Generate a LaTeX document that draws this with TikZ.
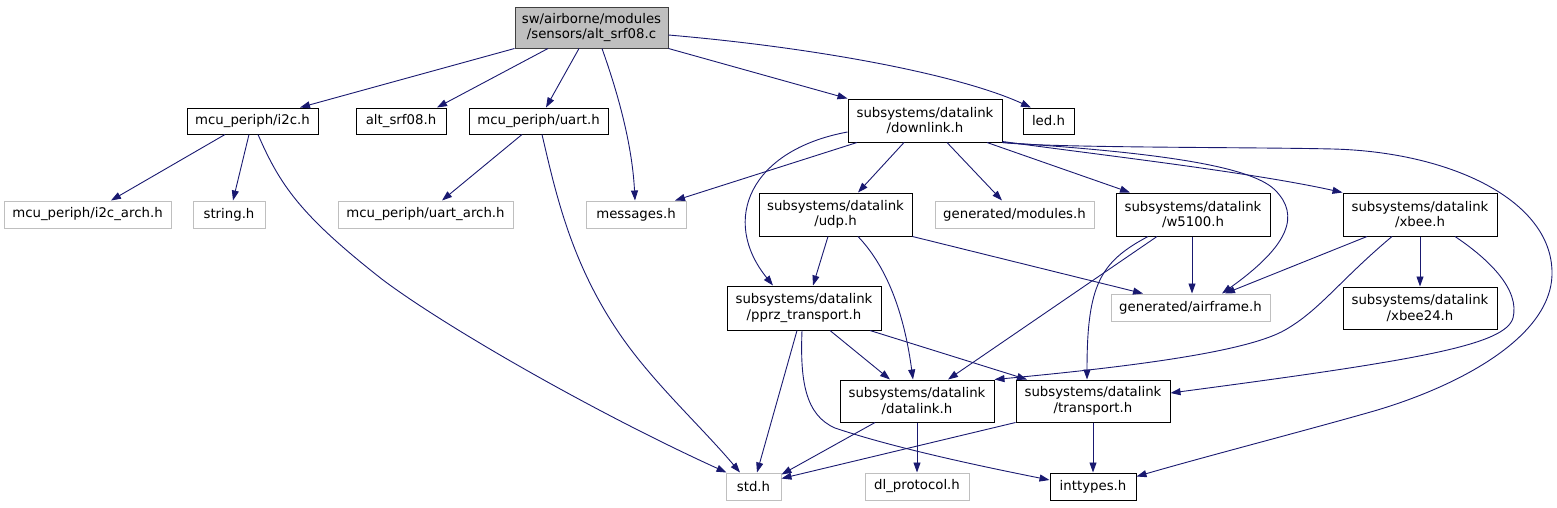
\documentclass[tikz,border=0pt]{standalone}
\usepackage{fontspec}
\setmainfont{DejaVu Sans}
\usetikzlibrary{arrows.meta}
\definecolor{edgec}{HTML}{191970}
\definecolor{extc}{HTML}{BFBFBF}
\definecolor{bordc}{HTML}{404040}
\tikzset{
  nbase/.style={inner sep=0pt, align=center, font=\fontsize{13.3}{15.6}\selectfont, line width=1pt},
  box/.style={nbase, draw=black},
  ext/.style={nbase, draw=extc},
  rootbox/.style={nbase, draw=bordc, fill=extc},
  edge/.style={draw=edgec, line width=0.9pt, -{Triangle[length=10pt,width=7pt]}},
}
\begin{document}
\begin{tikzpicture}[x=1pt,y=-1pt]
\useasboundingbox (0,0) rectangle (1557,507);
% nodes
\node[rootbox, minimum width=153pt, minimum height=41pt] (root) at (591.5,27.5) {sw/airborne/modules\\/sensors/alt\_srf08.c};
\node[box, minimum width=131pt, minimum height=26pt] (i2c) at (252.5,121) {mcu\_periph/i2c.h};
\node[box, minimum width=90pt, minimum height=26pt] (altsrf) at (401,121) {alt\_srf08.h};
\node[box, minimum width=139pt, minimum height=26pt] (uart) at (538.5,121) {mcu\_periph/uart.h};
\node[ext, minimum width=100pt, minimum height=27pt] (messages) at (636,214.5) {messages.h};
\node[box, minimum width=154pt, minimum height=43pt] (downlink) at (925,120.5) {subsystems/datalink\\/downlink.h};
\node[box, minimum width=51pt, minimum height=26pt] (led) at (1048.5,121) {led.h};
\node[ext, minimum width=167pt, minimum height=27pt] (i2carch) at (87.5,214.5) {mcu\_periph/i2c\_arch.h};
\node[ext, minimum width=72pt, minimum height=27pt] (string) at (229,214.5) {string.h};
\node[ext, minimum width=175pt, minimum height=27pt] (uartarch) at (425.5,214.5) {mcu\_periph/uart\_arch.h};
\node[box, minimum width=153pt, minimum height=43pt] (udp) at (835.5,214.5) {subsystems/datalink\\/udp.h};
\node[ext, minimum width=159pt, minimum height=27pt] (modules) at (1014.5,214.5) {generated/modules.h};
\node[box, minimum width=154pt, minimum height=43pt] (w5100) at (1193,214.5) {subsystems/datalink\\/w5100.h};
\node[box, minimum width=154pt, minimum height=43pt] (xbee) at (1420,214.5) {subsystems/datalink\\/xbee.h};
\node[ext, minimum width=159pt, minimum height=27pt] (airframe) at (1190.5,307.5) {generated/airframe.h};
\node[box, minimum width=154pt, minimum height=42pt] (xbee24) at (1420,308) {subsystems/datalink\\/xbee24.h};
\node[box, minimum width=154pt, minimum height=44pt] (pprz) at (804,308) {subsystems/datalink\\/pprz\_transport.h};
\node[box, minimum width=154pt, minimum height=42pt] (datalink) at (917,401) {subsystems/datalink\\/datalink.h};
\node[box, minimum width=154pt, minimum height=42pt] (transport) at (1093,401) {subsystems/datalink\\/transport.h};
\node[ext, minimum width=55pt, minimum height=27pt] (std) at (753.5,486.5) {std.h};
\node[ext, minimum width=104pt, minimum height=27pt] (dlprot) at (917,486.5) {dl\_protocol.h};
\node[box, minimum width=86pt, minimum height=27pt] (inttypes) at (1093,486.5) {inttypes.h};
% edges from root
\draw[edge] (root.south west) -- ([xshift=47.5pt]i2c.north);
\draw[edge] ([xshift=-43.5pt]root.south) -- ([xshift=36pt]altsrf.north);
\draw[edge] ([xshift=-12.5pt]root.south) -- ([xshift=7.5pt]uart.north);
\draw[edge] ([xshift=10.5pt]root.south) .. controls (615,85) and (632,140) .. ([xshift=-1pt]messages.north);
\draw[edge] (root.south east) -- (downlink.north west);
\draw[edge] ([yshift=-7.5pt]root.east) .. controls (820,48) and (960,75) .. ([xshift=-17.5pt]led.north);
% i2c
\draw[edge] ([xshift=-27.5pt]i2c.south) -- ([xshift=23.5pt]i2carch.north);
\draw[edge] ([xshift=-3.5pt]i2c.south) -- ([xshift=4pt]string.north);
\draw[edge] ([xshift=5.5pt]i2c.south) .. controls (280,185) and (300,215) .. (383,280) .. controls (450,330) and (600,415) .. ([xshift=1pt]std.north west);
% uart
\draw[edge] ([xshift=-16.5pt]uart.south) -- ([xshift=16.5pt]uartarch.north);
\draw[edge] ([xshift=3.5pt]uart.south) .. controls (555,190) and (570,260) .. (617,330) .. controls (650,380) and (700,425) .. ([xshift=-13.5pt]std.north);
% downlink
\draw[edge] ([xshift=-68pt]downlink.south) -- ([xshift=39pt]messages.north);
\draw[edge] ([yshift=-11.5pt]downlink.west) .. controls (750,150) and (720,220) .. ([xshift=-31pt]pprz.north);
\draw[edge] ([xshift=-21pt]downlink.south) -- ([xshift=22.5pt]udp.north);
\draw[edge] ([xshift=22pt]downlink.south) -- ([xshift=-12.5pt]modules.north);
\draw[edge] ([xshift=62pt]downlink.south) -- ([xshift=-63pt]w5100.north);
\draw[edge] ([yshift=1pt]downlink.south east) .. controls (1100,155) and (1250,172) .. (xbee.north west);
\draw[edge] (downlink.south east) .. controls (1150,152) and (1250,165) .. (1275,190) .. controls (1300,215) and (1290,245) .. ([xshift=31.5pt]airframe.north);
\draw[edge] (downlink.south east) .. controls (1050,148) and (1250,147) .. (1333,149) .. controls (1450,152) and (1552,200) .. (1552,273) .. controls (1552,340) and (1450,390) .. (1367,413) .. controls (1300,432) and (1200,458) .. ([yshift=-4pt]inttypes.north east);
% udp
\draw[edge] ([xshift=-7.5pt]udp.south) -- ([xshift=9pt]pprz.north);
\draw[edge] ([xshift=22.5pt]udp.south) .. controls (890,270) and (905,320) .. ([xshift=-4pt]datalink.north);
\draw[edge] (udp.south east) -- ([xshift=-47.5pt]airframe.north);
% w5100
\draw[edge] ([xshift=-1pt]w5100.south) -- ([xshift=1.5pt]airframe.north);
\draw[edge] ([xshift=-36pt]w5100.south) -- ([xshift=31pt]datalink.north);
\draw[edge] ([xshift=-45pt]w5100.south) .. controls (1100,262) and (1087,285) .. ([xshift=-6pt]transport.north);
% xbee
\draw[edge] ([xshift=-53pt]xbee.south) -- ([xshift=34.5pt]airframe.north);
\draw[edge] (xbee.south) -- (xbee24.north);
\draw[edge] ([xshift=-28pt]xbee.south) .. controls (1340,280) and (1320,310) .. (1285,330) .. controls (1250,350) and (1150,365) .. (datalink.north east);
\draw[edge] ([xshift=35pt]xbee.south) .. controls (1490,260) and (1520,290) .. (1513,318) .. controls (1505,345) and (1420,360) .. ([yshift=8pt]transport.east);
% pprz
\draw[edge] ([xshift=26pt]pprz.south) -- ([xshift=-27pt]datalink.north);
\draw[edge] ([xshift=66pt]pprz.south) -- ([xshift=-66pt]transport.north);
\draw[edge] ([xshift=-7pt]pprz.south) -- ([xshift=3.5pt]std.north);
\draw[edge] ([xshift=-2pt]pprz.south) .. controls (800,380) and (805,415) .. (835,428) .. controls (900,450) and (1000,470) .. ([yshift=6.5pt]inttypes.west);
% datalink
\draw[edge] ([xshift=-42pt]datalink.south) -- ([yshift=-2pt]std.north east);
\draw[edge] (datalink.south) -- (dlprot.north);
% transport
\draw[edge] (transport.south west) -- ([yshift=8pt]std.east);
\draw[edge] (transport.south) -- (inttypes.north);
\end{tikzpicture}
\end{document}
